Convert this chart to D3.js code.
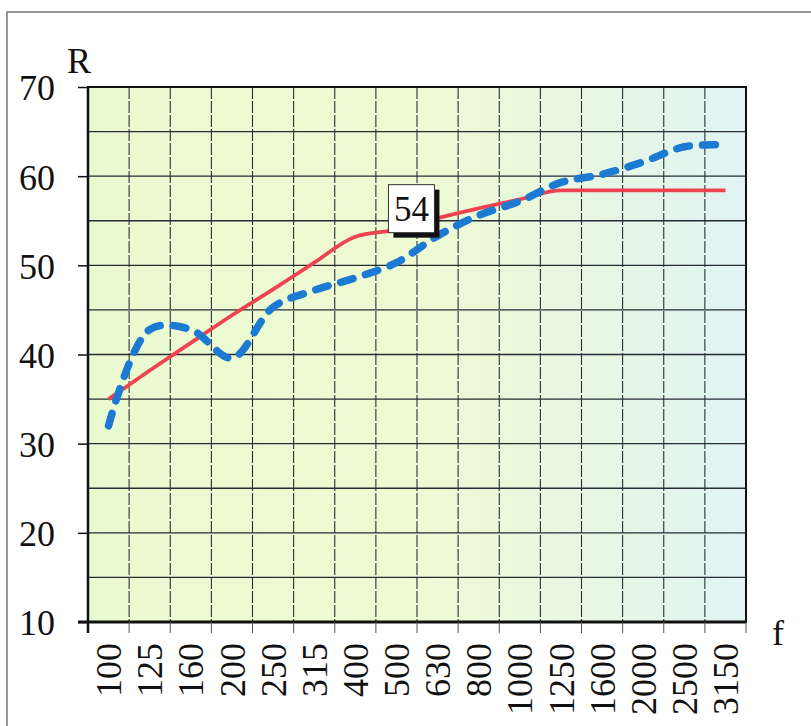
<!DOCTYPE html>
<html>
<head>
<meta charset="utf-8">
<script src="https://cdn.jsdelivr.net/npm/d3@7"></script>
<style>
  html, body { margin: 0; padding: 0; background: #ffffff; }
  svg { display: block; }
  text { font-family: "Liberation Serif", "DejaVu Serif", serif; fill: #111; }
</style>
</head>
<body>
<svg id="chart" width="811" height="726"></svg>
<script>
const categories = ["100","125","160","200","250","315","400","500","630","800","1000","1250","1600","2000","2500","3150"];
const redValues  = [35, 38.2, 41.3, 44.4, 47.3, 50.3, 53.2, 54, 55.3, 56.4, 57.4, 58.4, 58.4, 58.4, 58.4, 58.4];
const blueValues = [32, 42.8, 42.8, 39.6, 45.3, 47.2, 48.6, 50.3, 53.3, 55.6, 57.2, 59.3, 60.2, 61.6, 63.3, 63.5];
const yTicks = [10, 20, 30, 40, 50, 60, 70];
const yGrid = [15, 20, 25, 30, 35, 40, 45, 50, 55, 60, 65];
const labelCategory = "500";
const labelText = "54";

const SERIF = "'Liberation Serif', 'DejaVu Serif', serif";
const svg = d3.select("#chart");
const L = 88, R = 746, T = 87, B = 622;

const x = d3.scaleBand().domain(categories).range([L, R]);
const y = d3.scaleLinear().domain([10, 70]).range([B, T]);
const cx = c => x(c) + x.bandwidth() / 2;

// outer frame
svg.append("path").attr("d", "M7,740 L7,12 L820,12")
  .attr("fill", "none").attr("stroke", "#777").attr("stroke-width", 1.5);

// gradient background
const defs = svg.append("defs");
const grad = defs.append("linearGradient").attr("id", "bg").attr("x1", "0").attr("x2", "1").attr("y1", "0").attr("y2", "0");
grad.append("stop").attr("offset", "0%").attr("stop-color", "#eafad0");
grad.append("stop").attr("offset", "50%").attr("stop-color", "#eefad2");
grad.append("stop").attr("offset", "100%").attr("stop-color", "#e0f4f3");
svg.append("rect").attr("x", L).attr("y", T).attr("width", R - L).attr("height", B - T).attr("fill", "url(#bg)");

// horizontal grid
svg.append("g").selectAll("line").data(yGrid).join("line")
  .attr("x1", L).attr("x2", R).attr("y1", d => y(d)).attr("y2", d => y(d))
  .attr("stroke", "#262b36").attr("stroke-width", 1.3);

// vertical grid (category boundaries)
svg.append("g").selectAll("line").data(categories.slice(1)).join("line")
  .attr("x1", d => x(d)).attr("x2", d => x(d)).attr("y1", T).attr("y2", B)
  .attr("stroke", "#2a2e36").attr("stroke-width", 1.1).attr("stroke-dasharray", "12,2");

// plot border
svg.append("rect").attr("x", L).attr("y", T).attr("width", R - L).attr("height", B - T)
  .attr("fill", "none").attr("stroke", "#111").attr("stroke-width", 2);

// y axis
const yAxis = svg.append("g").attr("transform", `translate(${L},0)`)
  .call(d3.axisLeft(y).tickValues(yTicks).tickSize(10).tickPadding(23).tickFormat(d3.format("d")))
  .attr("font-family", SERIF);
yAxis.select(".domain").attr("stroke", "#111").attr("stroke-width", 2.5).attr("d", `M0,${T}V${B + 11}`);
yAxis.selectAll(".tick line").attr("stroke", "#111").attr("stroke-width", 1.5);
yAxis.selectAll(".tick text").attr("font-size", 36).attr("dy", "0.36em")
  .attr("font-family", SERIF).attr("fill", "#111");

// x axis: labels centered on bands, ticks on boundaries
const xAxis = svg.append("g").attr("transform", `translate(0,${B})`)
  .call(d3.axisBottom(x).tickSize(0).tickPadding(0))
  .attr("font-family", SERIF);
xAxis.select(".domain").attr("stroke", "#111").attr("stroke-width", 3).attr("d", `M${L - 10},0H${R}`);
xAxis.selectAll(".tick text")
  .attr("transform", "rotate(-90)")
  .attr("text-anchor", "end")
  .attr("x", -21).attr("y", 0).attr("dy", "0.35em")
  .attr("font-size", 36)
  .attr("font-family", SERIF).attr("fill", "#111");
const bounds = categories.slice(1).map(c => x(c)).concat([R]);
svg.append("g").selectAll("line").data(bounds).join("line")
  .attr("x1", d => d).attr("x2", d => d).attr("y1", B).attr("y2", B + 11)
  .attr("stroke", "#555").attr("stroke-width", 1);

// axis titles
svg.append("text").attr("x", 67).attr("y", 73).attr("font-size", 36).attr("font-family", SERIF).text("R");
svg.append("text").attr("x", 772).attr("y", 645).attr("font-size", 36).attr("font-family", SERIF).text("f");

// lines
const line = (vals, curve) => d3.line()
  .x((d, i) => cx(categories[i]))
  .y(d => y(d))
  .curve(curve)(vals);

svg.append("path").attr("d", line(redValues, d3.curveMonotoneX))
  .attr("fill", "none").attr("stroke", "#ef4450").attr("stroke-width", 3.8);

svg.append("path").attr("d", line(blueValues, d3.curveCatmullRom.alpha(0.5)))
  .attr("fill", "none").attr("stroke", "#1c7ad2").attr("stroke-width", 7.5)
  .attr("stroke-linecap", "round").attr("stroke-dasharray", "13,13");

// data label
const li = categories.indexOf(labelCategory);
const px = cx(labelCategory), py = y(redValues[li]);
const bw = 46, bh = 48;
const bx = px - 8, by = py + 3 - bh;
svg.append("rect").attr("x", bx + 5).attr("y", by + 5).attr("width", bw).attr("height", bh).attr("fill", "#111");
svg.append("rect").attr("x", bx).attr("y", by).attr("width", bw).attr("height", bh)
  .attr("fill", "#fff").attr("stroke", "#333").attr("stroke-width", 1);
svg.append("text").attr("x", bx + bw / 2).attr("y", by + bh / 2).attr("dy", "0.35em")
  .attr("text-anchor", "middle").attr("font-size", 35).attr("font-family", SERIF).text(labelText);
</script>
</body>
</html>
